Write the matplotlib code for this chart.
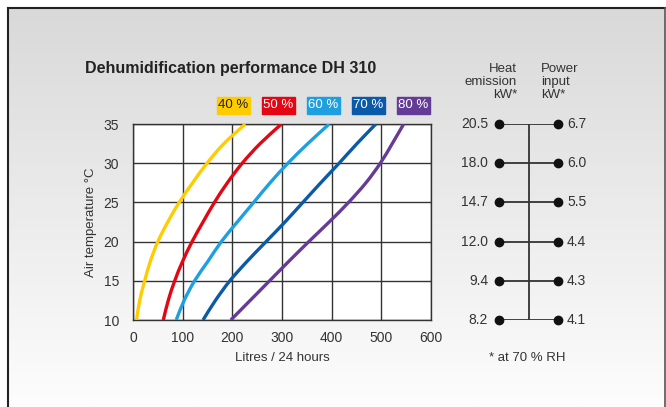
import numpy as np
import matplotlib
matplotlib.use("Agg")
import matplotlib.pyplot as plt
from matplotlib.patches import Rectangle, PathPatch
from matplotlib.path import Path

plt.rcParams['font.family'] = ['Liberation Sans', 'DejaVu Sans']

# temperature (°C) vs litres / 24 h for each relative humidity
temps = [10, 12.5, 15, 17.5, 20, 22.5, 25, 27.5, 30, 32.5, 35]
rh_labels = ['40 %', '50 %', '60 %', '70 %', '80 %']
litres = {
    '40 %': [7, 13.5, 23.5, 35, 50, 70, 93, 120, 149, 183, 226],
    '50 %': [61, 71, 84, 100, 119, 141, 164, 190, 220, 256, 299],
    '60 %': [87, 103, 124, 151, 178, 210, 243, 276, 312, 352, 395],
    '70 %': [141, 166, 195, 230, 268, 306, 342, 378, 415, 451, 489],
    '80 %': [197, 236, 275, 314, 354, 395, 434, 469, 498, 522, 545],
}
colors = ['#ffcc00', '#e30613', '#1ea0e0', '#0a5aa8', '#643c96']
text_colors = ['#222222', 'white', 'white', 'white', 'white']

# right-hand scale
scale_temps = [35, 30, 25, 20, 15, 10]
heat_emission = ['20.5', '18.0', '14.7', '12.0', '9.4', '8.2']
power_input = ['6.7', '6.0', '5.5', '4.4', '4.3', '4.1']

W, H = 666, 407
fig = plt.figure(figsize=(W / 100, H / 100), dpi=100)


def fx(px):
    return px / W


def fy(py):
    return 1 - py / H


def smooth_path(xs, ys):
    # Catmull-Rom through the read points, drawn as cubic Bezier segments
    p = np.column_stack([xs, ys]).astype(float)
    ext = np.vstack([2 * p[0] - p[1], p, 2 * p[-1] - p[-2]])
    verts = [p[0]]
    codes = [Path.MOVETO]
    for i in range(1, len(ext) - 2):
        c1 = ext[i] + (ext[i + 1] - ext[i - 1]) / 6
        c2 = ext[i + 1] - (ext[i + 2] - ext[i]) / 6
        verts += [c1, c2, ext[i + 1]]
        codes += [Path.CURVE4] * 3
    return Path(verts, codes)


# background gradient panel with border
bg = fig.add_axes([0, 0, 1, 1], zorder=-10)
bg.axis('off')
grad = np.linspace(217, 253, 256).reshape(-1, 1) / 255
bg.imshow(np.dstack([grad, grad, grad]), extent=[8, 665, H, 8], aspect='auto')
bg.plot([8, 8], [H, 8], color='#222222', lw=1.5)
bg.plot([8, 665], [8, 8], color='#222222', lw=1.5)
bg.plot([665, 665], [8, H], color='#555555', lw=1.2)
bg.set_xlim(0, W)
bg.set_ylim(H, 0)

# main chart
ax = fig.add_axes([fx(133), fy(320), fx(298), (320 - 124) / H])
ax.set_facecolor('white')
for lab, c in zip(rh_labels, colors):
    ax.add_patch(PathPatch(smooth_path(litres[lab], temps), fill=False,
                           edgecolor=c, lw=2.4, capstyle='butt', zorder=3))
ax.set_xlim(0, 600)
ax.set_ylim(10, 35)
ax.set_xticks(range(0, 601, 100))
ax.set_yticks(range(10, 36, 5))
ax.grid(True, color='#333333', lw=1)
for s in ax.spines.values():
    s.set_color('#333333')
    s.set_linewidth(1)
ax.tick_params(length=0, labelsize=10, labelcolor='#333333')
ax.tick_params(axis='y', pad=10)
ax.tick_params(axis='x', pad=8)
ax.set_xlabel('Litres / 24 hours', fontsize=9.5, color='#333333')
ax.set_ylabel('Air temperature °C', fontsize=9.5, color='#333333')
ax.xaxis.set_label_coords(0.5, -0.165)
ax.yaxis.set_label_coords(-0.12, 0.5)

# title
fig.text(fx(85), fy(68), 'Dehumidification performance DH 310', fontsize=11.5,
         fontweight='bold', color='#222222', va='center', ha='left')

# legend boxes
for i, (lab, c, tc) in enumerate(zip(rh_labels, colors, text_colors)):
    x0 = 217 + i * 45
    fig.patches.append(Rectangle((fx(x0), fy(114)), fx(33), 17 / H,
                                 transform=fig.transFigure, color=c))
    fig.text(fx(x0 + 16.5), fy(105.5), lab, color=tc, fontsize=9.5,
             ha='center', va='center')

# right-hand scale
ax2 = fig.add_axes([fx(480), fy(320), fx(100), (320 - 124) / H])
ax2.set_xlim(0, 100)
ax2.set_ylim(10, 35)
ax2.axis('off')
ax2.plot([49, 49], [10, 35], color='#333333', lw=1.3)
for t, he, pi in zip(scale_temps, heat_emission, power_input):
    ax2.plot([19, 78], [t, t], color='#333333', lw=1.3)
    ax2.plot([19, 78], [t, t], 'o', color='#111111', ms=6, clip_on=False)
    ax2.text(8, t, he, ha='right', va='center', fontsize=10, color='#333333')
    ax2.text(87, t, pi, ha='left', va='center', fontsize=10, color='#333333')

fig.text(fx(517), fy(82), 'Heat\nemission\nkW*', ha='right', va='center',
         fontsize=9.5, color='#333333', linespacing=1.15)
fig.text(fx(541), fy(82), 'Power\ninput\nkW*', ha='left', va='center',
         fontsize=9.5, color='#333333', linespacing=1.15)
fig.text(fx(527), fy(358), '* at 70 % RH', ha='center', va='center',
         fontsize=9.5, color='#333333')

fig.savefig('out.png', dpi=100)
